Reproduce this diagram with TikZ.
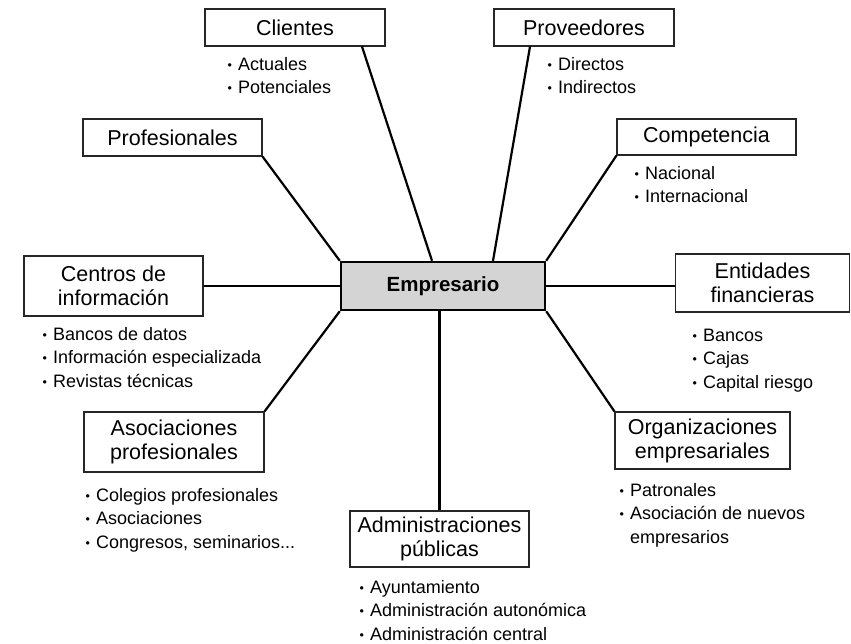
\documentclass[tikz,border=0pt]{standalone}
\usepackage{fontspec}
\setmainfont{Liberation Sans}
\newcommand\itm[1]{\makebox[11.5pt][l]{\hspace*{1pt}\raisebox{0.8pt}{\fontsize{12.5}{12.5}\selectfont •}}#1}
\tikzset{
  box/.style={draw=black!85, line width=1.1pt, fill=white, inner sep=0pt, align=center,
    font=\fontsize{21.5}{24}\selectfont},
  centralbox/.style={draw=black, line width=2.4pt, fill=black!17, inner sep=0pt,
    font=\fontsize{20.5}{24}\selectfont\bfseries},
  conn/.style={line width=2.2pt, black},
  lst/.style={anchor=base west, inner sep=0pt, font=\fontsize{18}{23.5}\selectfont},
}
\begin{document}
\begin{tikzpicture}[x=1pt,y=-1pt]
\useasboundingbox (0,0) rectangle (851,643);
% boxes
\node[centralbox, minimum width=204pt, minimum height=48pt] (emp) at (443,286) {Empresario};
\node[box, minimum width=180pt, minimum height=37pt] (cli) at (295,27.5) {Clientes};
\node[box, minimum width=180pt, minimum height=37pt] (prov) at (584,27.5) {Proveedores};
\node[box, minimum width=179pt, minimum height=37pt] (prof) at (172.5,137.5) {Profesionales};
\node[box, minimum width=179pt, minimum height=36pt] (comp) at (706.5,137) {Competencia};
\node[box, minimum width=179pt, minimum height=60pt] (cen) at (113.5,286) {Centros de\\información};
\node[box, minimum width=174pt, minimum height=58pt] (ent) at (762.5,283) {Entidades\\financieras};
\node[box, minimum width=180pt, minimum height=60pt] (aso) at (174,442) {Asociaciones\\profesionales};
\node[box, minimum width=175pt, minimum height=57pt] (org) at (702.5,440.5) {Organizaciones\\empresariales};
\node[box, minimum width=179pt, minimum height=56pt] (adm) at (439.5,539) {Administraciones\\públicas};
% connectors
\draw[conn] ([xshift=67pt]cli.south) -- ([xshift=-11pt]emp.north);
\draw[conn] ([xshift=-54pt]prov.south) -- ([xshift=50pt]emp.north);
\draw[conn] (prof.south east) -- (emp.north west);
\draw[conn] (comp.south west) -- (emp.north east);
\draw[conn] (cen.east) -- (emp.west);
\draw[conn] (emp.east) -- (emp.east -| ent.west);
\draw[conn] (aso.north east) -- (emp.south west);
\draw[conn] (org.north west) -- (emp.south east);
\draw[conn] (adm.north) -- (adm.north |- emp.south);
% lists
\node[lst] (lcli) at (226.4,70) {\begin{tabular}[t]{@{}l@{}}\itm{Actuales}\\\itm{Potenciales}\end{tabular}};
\node[lst] (lprov) at (546.4,70) {\begin{tabular}[t]{@{}l@{}}\itm{Directos}\\\itm{Indirectos}\end{tabular}};
\node[lst] (lcomp) at (633.4,179) {\begin{tabular}[t]{@{}l@{}}\itm{Nacional}\\\itm{Internacional}\end{tabular}};
\node[lst] (lcen) at (41.4,340) {\begin{tabular}[t]{@{}l@{}}\itm{Bancos de datos}\\\itm{Información especializada}\\\itm{Revistas técnicas}\end{tabular}};
\node[lst] (lent) at (691.4,341) {\begin{tabular}[t]{@{}l@{}}\itm{Bancos}\\\itm{Cajas}\\\itm{Capital riesgo}\end{tabular}};
\node[lst] (laso) at (84.4,501) {\begin{tabular}[t]{@{}l@{}}\itm{Colegios profesionales}\\\itm{Asociaciones}\\\itm{Congresos, seminarios...}\end{tabular}};
\node[lst] (lorg) at (618.4,496) {\begin{tabular}[t]{@{}l@{}}\itm{Patronales}\\\itm{Asociación de nuevos}\\\hspace*{11.5pt}empresarios\end{tabular}};
\node[lst] (ladm) at (358.4,593) {\begin{tabular}[t]{@{}l@{}}\itm{Ayuntamiento}\\\itm{Administración autonómica}\\\itm{Administración central}\end{tabular}};
\end{tikzpicture}
\end{document}
